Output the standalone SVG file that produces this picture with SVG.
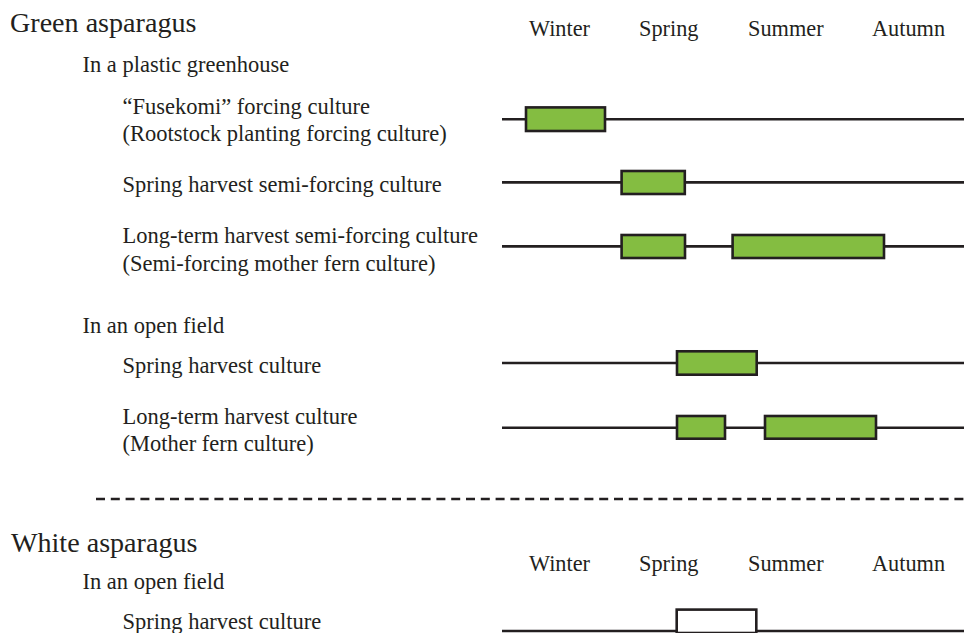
<svg xmlns="http://www.w3.org/2000/svg" width="964" height="633" viewBox="0 0 964 633">
  <style>
    text { font-family: "Liberation Serif", "Times New Roman", serif; fill: #231F20; }
    .h { font-size: 28.1px; }
    .t { font-size: 22.5px; }
    .m { font-size: 22.3px; }
    .line { stroke: #231F20; stroke-width: 2.6; fill: none; }
    .bar { fill: #84BD41; stroke: #231F20; stroke-width: 2.6; }
    .wbar { fill: #FFFFFF; stroke: #231F20; stroke-width: 2.6; }
    .dash { stroke: #231F20; stroke-width: 2.6; stroke-dasharray: 9 5.8; fill: none; }
  </style>
  <rect width="964" height="633" fill="#FFFFFF"/>

  <g id="green-header">
    <text class="h" x="10" y="32.3">Green asparagus</text>
    <text class="m" x="529" y="35.5">Winter</text>
    <text class="m" x="639" y="35.5">Spring</text>
    <text class="m" x="748" y="35.5">Summer</text>
    <text class="m" x="872" y="35.5">Autumn</text>
    <text class="t" x="82.5" y="71.7">In a plastic greenhouse</text>
  </g>

  <g id="row-fusekomi">
    <text class="t" x="122.5" y="113.8">“Fusekomi” forcing culture</text>
    <text class="t" x="122.5" y="140.8">(Rootstock planting forcing culture)</text>
  </g>
  <g id="row-spring-semi">
    <text class="t" x="122.5" y="192">Spring harvest semi-forcing culture</text>
  </g>
  <g id="row-longterm-semi">
    <text class="t" x="122.5" y="243.3">Long-term harvest semi-forcing culture</text>
    <text class="t" x="122.5" y="270.5">(Semi-forcing mother fern culture)</text>
  </g>

  <g id="open-field-header">
    <text class="t" x="82.5" y="333.3">In an open field</text>
  </g>
  <g id="row-spring-open">
    <text class="t" x="122.5" y="372.7">Spring harvest culture</text>
  </g>
  <g id="row-longterm-open">
    <text class="t" x="122.5" y="424.3">Long-term harvest culture</text>
    <text class="t" x="122.5" y="451">(Mother fern culture)</text>
  </g>

  <g id="separator">
    <line class="dash" x1="96" y1="499" x2="964" y2="499"/>
  </g>

  <g id="white-header">
    <text class="h" x="11" y="552.3">White asparagus</text>
    <text class="m" x="529" y="571">Winter</text>
    <text class="m" x="639" y="571">Spring</text>
    <text class="m" x="748" y="571">Summer</text>
    <text class="m" x="872" y="571">Autumn</text>
    <text class="t" x="82.5" y="589.3">In an open field</text>
  </g>
  <g id="row-white-spring">
    <text class="t" x="122.5" y="629.3">Spring harvest culture</text>
  </g>

  <g id="timelines">
    <line class="line" x1="502" y1="119.3" x2="964" y2="119.3"/>
    <rect class="bar" x="526" y="107.4" width="79" height="23.6"/>

    <line class="line" x1="502" y1="182.4" x2="964" y2="182.4"/>
    <rect class="bar" x="621.6" y="171" width="63.2" height="23"/>

    <line class="line" x1="502" y1="246.4" x2="964" y2="246.4"/>
    <rect class="bar" x="621.6" y="235" width="63.4" height="23"/>
    <rect class="bar" x="732.6" y="235" width="151.4" height="23"/>

    <line class="line" x1="502" y1="363" x2="964" y2="363"/>
    <rect class="bar" x="677" y="351.3" width="79.7" height="23.4"/>

    <line class="line" x1="502" y1="427.7" x2="964" y2="427.7"/>
    <rect class="bar" x="677" y="416" width="48" height="22.7"/>
    <rect class="bar" x="765" y="416" width="111" height="22.7"/>

    <line class="line" x1="502" y1="631" x2="964" y2="631"/>
    <rect class="wbar" x="676.7" y="609.6" width="79.6" height="23.4"/>
  </g>
</svg>
